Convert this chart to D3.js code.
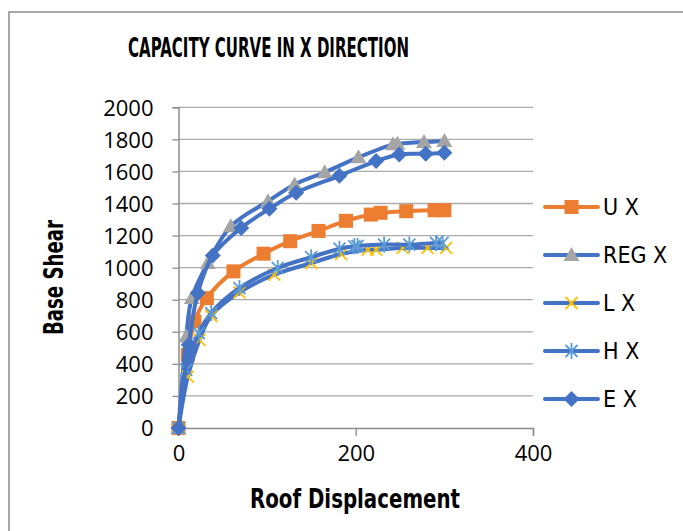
<!DOCTYPE html>
<html><head><meta charset="utf-8">
<script src="https://cdn.jsdelivr.net/npm/d3@7"></script>
<style>html,body{margin:0;padding:0;background:#fff;}svg{display:block;}</style>
</head><body>
<svg id="c" width="683" height="531"></svg>
<script>
const xTicks = [0, 200, 400];
const yTicks = [0, 200, 400, 600, 800, 1000, 1200, 1400, 1600, 1800, 2000];
const seriesNames = ["U X", "REG X", "L X", "H X", "E X"];
const uX = [[0,0],[10.5,456],[18,664],[32,810],[62,977],[96,1087],[126,1165],[158,1229],[189,1292],[217,1331],[228,1342],[257,1352],[289,1358],[300,1358]];
const regX = [[0,0],[8.7,571],[15,810],[33,1029],[59,1258],[101,1414],[131,1519],[165,1595],[203,1688],[242,1769],[247,1772],[277,1783],[300,1790]];
const lX = [[0,0],[10.5,321],[23.7,550],[36.8,700],[68.8,846],[108,956],[150,1029],[183.5,1085],[213.5,1112],[223,1112],[253,1123],[281,1123],[302,1123]];
const hX = [[0,0],[8.7,362],[22.9,592],[36.9,717],[68.8,873],[112,998],[149.7,1065],[181.6,1118],[198.5,1133],[202,1135],[232,1144],[260.5,1144],[290.6,1154],[298,1154]];
const eX = [[0,0],[11.6,519],[21.8,842],[38.7,1075],[70.7,1248],[102.6,1367],[132.7,1467],[181.6,1573],[223,1665],[249,1706],[279,1710],[300,1717]];

const seriesData = [uX, regX, lX, hX, eX];
const lineColors = ["#ED7D31", "#4472C4", "#4472C4", "#4472C4", "#4472C4"];
const markerKinds = ["square", "triangle", "x", "asterisk", "diamond"];
const markerColors = ["#ED7D31", "#A5A5A5", "#FFC000", "#5B9BD5", "#4472C4"];

const svg = d3.select("#c");
const narrow = "'Liberation Sans Narrow','Arial Narrow','DejaVu Sans Condensed',sans-serif";
const tickFont = "'Open Sans','Noto Sans',sans-serif";

// outer frame
svg.append("rect").attr("x", 9).attr("y", 12).attr("width", 700).attr("height", 540)
  .attr("fill", "#fff").attr("stroke", "#8c8c8c").attr("stroke-width", 1.5);

const x = d3.scaleLinear().domain([0, 400]).range([178.5, 533]);
const y = d3.scaleLinear().domain([0, 2000]).range([428, 107.3]);

// gridlines
svg.append("g").selectAll("line").data(yTicks.filter(d => d > 0)).join("line")
  .attr("x1", x(0)).attr("x2", x(400)).attr("y1", d => y(d)).attr("y2", d => y(d))
  .attr("stroke", "#ababab").attr("stroke-width", 1.3);

// axes
const yAxis = svg.append("g").attr("transform", `translate(${x(0)},0)`)
  .call(d3.axisLeft(y).tickValues(yTicks).tickSize(6).tickPadding(19).tickFormat(d3.format("d")));
const xAxis = svg.append("g").attr("transform", `translate(0,${y(0)})`)
  .call(d3.axisBottom(x).tickValues(xTicks).tickSize(8).tickPadding(9).tickFormat(d3.format("d")));
[yAxis, xAxis].forEach(a => {
  a.select(".domain").attr("stroke", "#8c8c8c").attr("stroke-width", 1.5);
  a.selectAll(".tick line").attr("stroke", "#8c8c8c").attr("stroke-width", 1.3);
  a.selectAll(".tick text").attr("font-family", tickFont).attr("font-size", 22).attr("fill", "#000");
});
yAxis.selectAll(".tick text").attr("dy", "0.36em");
xAxis.selectAll(".tick text").attr("dy", "0.71em");
xAxis.selectAll(".tick").filter(d => d === 0).select("line").remove();

// marker drawing
function drawMarker(g, kind, color) {
  if (kind === "square") {
    g.append("path").attr("d", "M-7,-7H7V7H-7Z").attr("fill", color);
  } else if (kind === "triangle") {
    g.append("path").attr("d", "M0,-8L8,6L-8,6Z").attr("fill", color);
  } else if (kind === "diamond") {
    g.append("path").attr("d", "M0,-8L8,0L0,8L-8,0Z").attr("fill", color);
  } else if (kind === "x") {
    g.append("path").attr("d", "M-6,-6L6,6M-6,6L6,-6").attr("stroke", color).attr("stroke-width", 1.8).attr("fill", "none");
  } else if (kind === "asterisk") {
    g.append("path").attr("d", "M-6,-6L6,6M-6,6L6,-6M0,-8L0,8").attr("stroke", color).attr("stroke-width", 1.8).attr("fill", "none");
  }
}

const line = d3.line().x(d => x(d[0])).y(d => y(d[1])).curve(d3.curveCatmullRom.alpha(0.5));

seriesData.forEach((data, i) => {
  const g = svg.append("g");
  g.append("path").datum(data).attr("d", line).attr("fill", "none")
    .attr("stroke", lineColors[i]).attr("stroke-width", 4).attr("stroke-linejoin", "round").attr("stroke-linecap", "round");
  data.forEach(d => {
    const m = g.append("g").attr("transform", `translate(${x(d[0])},${y(d[1])})`);
    drawMarker(m, markerKinds[i], markerColors[i]);
  });
});

// legend
const legendY = [207, 255, 303, 351, 399];
seriesNames.forEach((name, i) => {
  const g = svg.append("g").attr("transform", `translate(0,${legendY[i]})`);
  g.append("line").attr("x1", 545).attr("x2", 598).attr("y1", 0).attr("y2", 0)
    .attr("stroke", lineColors[i]).attr("stroke-width", 4).attr("stroke-linecap", "round");
  const m = g.append("g").attr("transform", "translate(571.5,0)");
  drawMarker(m, markerKinds[i], markerColors[i]);
  g.append("text").attr("x", 603).attr("y", 8.3).text(name)
    .attr("font-family", narrow).attr("font-size", 23).attr("fill", "#000");
});

// titles
svg.append("text").attr("x", 268.5).attr("y", 57).attr("text-anchor", "middle")
  .attr("font-family", narrow).attr("font-weight", "bold").attr("font-size", 27)
  .attr("textLength", 281).attr("lengthAdjust", "spacingAndGlyphs")
  .text("CAPACITY CURVE IN X DIRECTION");
svg.append("text").attr("x", 355).attr("y", 508).attr("text-anchor", "middle")
  .attr("font-family", narrow).attr("font-weight", "bold").attr("font-size", 27)
  .attr("textLength", 210).attr("lengthAdjust", "spacingAndGlyphs")
  .text("Roof Displacement");
svg.append("text").attr("transform", "translate(63,277.5) rotate(-90)").attr("text-anchor", "middle")
  .attr("font-family", narrow).attr("font-weight", "bold").attr("font-size", 27)
  .attr("textLength", 115).attr("lengthAdjust", "spacingAndGlyphs")
  .text("Base Shear");
</script>
</body></html>
